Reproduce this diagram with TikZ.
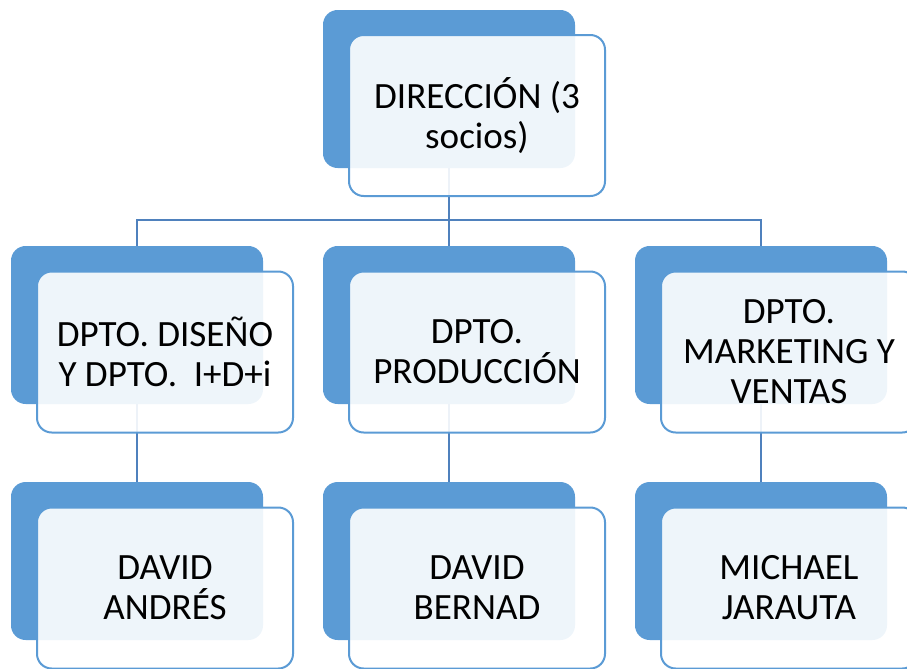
\documentclass[tikz,border=0pt]{standalone}
\usepackage{fontspec}
\setmainfont{Carlito}
\usetikzlibrary{backgrounds}
\definecolor{azul}{HTML}{5B9BD5}
\definecolor{linea}{HTML}{4F81BD}
\tikzset{
  fondo/.style={rectangle, rounded corners=11pt, fill=azul, minimum width=189pt, minimum height=118.5pt},
  caja/.style={rectangle, rounded corners=11pt, draw=azul, line width=1.5pt, fill=white, fill opacity=0.9,
    text opacity=1, minimum width=192pt, minimum height=120.75pt, align=center,
    font=\fontsize{27.8}{30}\selectfont},
  enlace/.style={draw=linea, line width=2.1pt}
}
\begin{document}
\begin{tikzpicture}[x=0.75pt, y=-0.75pt]
  \useasboundingbox (0, 0) rectangle (907, 668);
  \clip (0, 0) rectangle (907, 668);

  % dirección
  \node[fondo] (dirb) at (449, 89) {};
  \node[caja] (dir) at (477, 115.5) {DIRECCIÓN (3\\socios)};

  % departamentos
  \node[fondo] (disb) at (137, 325) {};
  \node[caja] (dis) at (165, 352) {DPTO. DISEÑO\\Y DPTO.\ \ I+D+i};
  \node[fondo] (prob) at (449, 325) {};
  \node[caja] (pro) at (477, 352) {DPTO.\\PRODUCCIÓN};
  \node[fondo] (mktb) at (761, 325) {};
  \node[caja] (mkt) at (789, 352) {DPTO.\\MARKETING Y\\VENTAS};

  % responsables
  \node[fondo] (andb) at (137, 561) {};
  \node[caja] (and) at (165, 588) {DAVID\\ANDRÉS};
  \node[fondo] (berb) at (449, 561) {};
  \node[caja] (ber) at (477, 588) {DAVID\\BERNAD};
  \node[fondo] (jarb) at (761, 561) {};
  \node[caja] (jar) at (789, 588) {MICHAEL\\JARAUTA};

  % conexiones
  \begin{scope}[on background layer]
    \coordinate (bus) at (449, 220);
    \draw[enlace] (dirb.south) -- (prob.north);
    \draw[enlace] (disb.north) |- (bus);
    \draw[enlace] (mktb.north) |- (bus);
    \draw[enlace] (disb.south) -- (andb.north);
    \draw[enlace] (prob.south) -- (berb.north);
    \draw[enlace] (mktb.south) -- (jarb.north);
  \end{scope}
\end{tikzpicture}
\end{document}
